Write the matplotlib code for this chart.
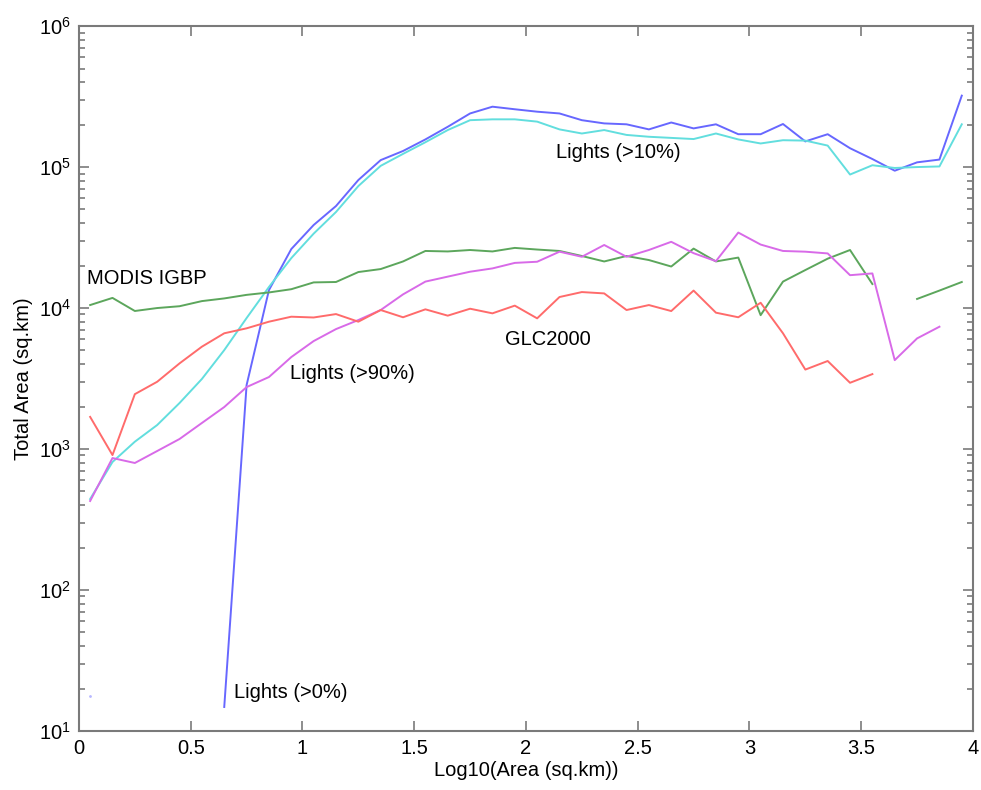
import numpy as np
import matplotlib
matplotlib.use("Agg")
import matplotlib.pyplot as plt
from matplotlib.ticker import LogLocator, MultipleLocator, NullFormatter

plt.rcParams['font.family'] = ['Liberation Sans', 'DejaVu Sans']
plt.rcParams['mathtext.fontset'] = 'custom'
plt.rcParams['mathtext.rm'] = 'Liberation Sans'

nan = np.nan

# bin centres of log10(area)
log_area = np.round(np.arange(0.05, 4.0, 0.1), 2)

modis_igbp = [10500, 11800, 9530, 10000, 10300, 11200, 11700, 12400, 12900, 13600,
              15200, 15300, 18000, 18900, 21400, 25400, 25200, 25800, 25200, 26700,
              26000, 25400, 23400, 21400, 23400, 21900, 19700, 26400, 21400, 22800,
              8900, 15400, 18600, 22400, 25800, 14800, nan, 11600, 13300, 15300]

glc2000 = [1690, 906, 2450, 3000, 4050, 5320, 6620, 7180, 8000, 8680,
           8570, 9060, 8000, 9680, 8600, 9790, 8830, 9890, 9170, 10400,
           8450, 11970, 12980, 12700, 9680, 10500, 9520, 13300, 9270, 8600,
           10900, 6620, 3660, 4210, 2950, 3400, nan, nan, nan, nan]

lights_90 = [428, 863, 796, 968, 1178, 1530, 1985, 2750, 3240, 4490,
             5830, 7090, 8220, 9680, 12500, 15400, 16700, 18100, 19100, 20900,
             21300, 25100, 23100, 28000, 23100, 25800, 29500, 24500, 21500, 34300,
             28200, 25400, 25100, 24400, 17100, 17600, 4270, 6090, 7370, nan]

lights_10 = [442, 809, 1127, 1480, 2120, 3140, 5030, 8490, 14100, 22600,
             33700, 48000, 73300, 102000, 124000, 150000, 183000, 215000, 218000, 218000,
             210000, 185000, 173000, 183000, 169000, 164000, 161000, 158000, 173000, 157000,
             147000, 155000, 154000, 142000, 88500, 103000, 98500, 100000, 101000, 201000]

lights_0 = [17.7, nan, nan, nan, nan, nan, 14.8, 2840, 13400, 26200,
            38800, 52900, 80900, 112000, 130000, 157000, 193000, 240000, 268000, 257000,
            247000, 240000, 215000, 204000, 201000, 185000, 207000, 188000, 201000, 171000,
            171000, 202000, 152000, 171000, 136000, 114000, 94200, 108000, 113000, 321000]

fig = plt.figure(figsize=(9.81, 7.90), dpi=100)
ax = fig.add_axes([0.0805, 0.0747, 0.9113, 0.8923])

lw = 1.4
ax.plot(log_area, lights_0, color='#6767ff', lw=lw)
ax.plot(log_area[:1], lights_0[:1], '.', color='#b8b8ff', ms=2)
ax.plot(log_area, lights_10, color='#62dede', lw=lw)
ax.plot(log_area, modis_igbp, color='#5ca65c', lw=lw)
ax.plot(log_area, lights_90, color='#d86ae8', lw=lw)
ax.plot(log_area, glc2000, color='#ff6b6b', lw=lw)

ax.set_yscale('log')
ax.set_xlim(0, 4)
ax.set_ylim(10, 1e6)
ax.xaxis.set_major_locator(MultipleLocator(0.5))
ax.xaxis.set_major_formatter(matplotlib.ticker.FuncFormatter(lambda v, p: f"{v:g}"))
ax.yaxis.set_major_locator(LogLocator(base=10, numticks=10))
ax.yaxis.set_minor_locator(LogLocator(base=10, subs=np.arange(2, 10), numticks=10))
ax.yaxis.set_minor_formatter(NullFormatter())

for s in ax.spines.values():
    s.set_color('#7a7a7a')
    s.set_linewidth(1.5)
fs = 14.5
ax.tick_params(which='both', direction='in', top=True, right=True, color='#7a7a7a',
               labelsize=fs, width=1.2)
ax.tick_params(which='major', length=7, pad=6)
ax.tick_params(which='minor', length=4)

ax.set_xlabel('Log10(Area (sq.km))', fontsize=fs, labelpad=2)
ax.set_ylabel('Total Area (sq.km)', fontsize=fs, labelpad=4)

ax.text(0.036, 16300, 'MODIS IGBP', fontsize=fs, va='center', ha='left')
ax.text(1.906, 6030, 'GLC2000', fontsize=fs, va='center', ha='left')
ax.text(0.944, 3460, 'Lights (>90%)', fontsize=fs, va='center', ha='left')
ax.text(2.134, 126000, 'Lights (>10%)', fontsize=fs, va='center', ha='left')
ax.text(0.693, 18.6, 'Lights (>0%)', fontsize=fs, va='center', ha='left')

fig.savefig('out.png', dpi=100)
